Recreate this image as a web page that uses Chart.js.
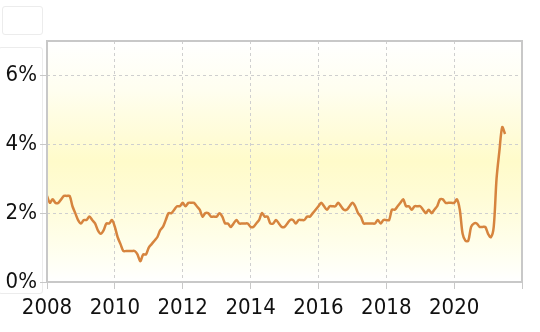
<!DOCTYPE html>
<html>
<head>
<meta charset="utf-8">
<script src="https://cdn.jsdelivr.net/npm/chart.js@4"></script>
<style>
  html, body { margin: 0; padding: 0; background: #fff; }
  #wrap { position: relative; width: 540px; height: 332px; }
  .box { position: absolute; border: 1px solid #ececec; border-radius: 3px; }
  canvas { position: absolute; left: 0; top: 0; }
</style>
</head>
<body>
<div id="wrap">
  <div class="box" style="left:2px;top:6px;width:39px;height:27px;"></div>
  <div class="box" style="left:-2px;top:47px;width:43px;height:245px;"></div>
  <canvas id="chart" width="540" height="332"></canvas>
</div>
<script>
// core CPI, % year on year, monthly from Jan 2008
const cpi2008 = [2.5, 2.3, 2.4, 2.3, 2.3, 2.4, 2.5, 2.5, 2.5, 2.2, 2.0, 1.8];
const cpi2009 = [1.7, 1.8, 1.8, 1.9, 1.8, 1.7, 1.5, 1.4, 1.5, 1.7, 1.7, 1.8];
const cpi2010 = [1.6, 1.3, 1.1, 0.9, 0.9, 0.9, 0.9, 0.9, 0.8, 0.6, 0.8, 0.8];
const cpi2011 = [1.0, 1.1, 1.2, 1.3, 1.5, 1.6, 1.8, 2.0, 2.0, 2.1, 2.2, 2.2];
const cpi2012 = [2.3, 2.2, 2.3, 2.3, 2.3, 2.2, 2.1, 1.9, 2.0, 2.0, 1.9, 1.9];
const cpi2013 = [1.9, 2.0, 1.9, 1.7, 1.7, 1.6, 1.7, 1.8, 1.7, 1.7, 1.7, 1.7];
const cpi2014 = [1.6, 1.6, 1.7, 1.8, 2.0, 1.9, 1.9, 1.7, 1.7, 1.8, 1.7, 1.6];
const cpi2015 = [1.6, 1.7, 1.8, 1.8, 1.7, 1.8, 1.8, 1.8, 1.9, 1.9, 2.0, 2.1];
const cpi2016 = [2.2, 2.3, 2.2, 2.1, 2.2, 2.2, 2.2, 2.3, 2.2, 2.1, 2.1, 2.2];
const cpi2017 = [2.3, 2.2, 2.0, 1.9, 1.7, 1.7, 1.7, 1.7, 1.7, 1.8, 1.7, 1.8];
const cpi2018 = [1.8, 1.8, 2.1, 2.1, 2.2, 2.3, 2.4, 2.2, 2.2, 2.1, 2.2, 2.2];
const cpi2019 = [2.2, 2.1, 2.0, 2.1, 2.0, 2.1, 2.2, 2.4, 2.4, 2.3, 2.3, 2.3];
const cpi2020 = [2.3, 2.4, 2.1, 1.4, 1.2, 1.2, 1.6, 1.7, 1.7, 1.6, 1.6, 1.6];
const cpi2021 = [1.4, 1.3, 1.6, 3.0, 3.8, 4.5, 4.3];

const startYear = 2008;
const yearTicks = [2008, 2010, 2012, 2014, 2016, 2018, 2020, 2022];
const percentTicks = [0, 2, 4, 6];

const coreCpi = [].concat(cpi2008, cpi2009, cpi2010, cpi2011, cpi2012, cpi2013,
  cpi2014, cpi2015, cpi2016, cpi2017, cpi2018, cpi2019, cpi2020, cpi2021);
const points = coreCpi.map((v, i) => ({x: startYear + i / 12, y: v}));

const labelFont = {family: "'DejaVu Sans Condensed', 'Liberation Sans'", size: 22};

const areaBackground = {
  id: 'areaBackground',
  beforeDraw(chart) {
    const {ctx, chartArea: a} = chart;
    const g = ctx.createLinearGradient(0, a.top, 0, a.bottom);
    g.addColorStop(0, '#ffffff');
    g.addColorStop(0.2, '#fffef0');
    g.addColorStop(0.5, '#fffbca');
    g.addColorStop(0.65, '#fffcd6');
    g.addColorStop(0.9, '#fffff2');
    g.addColorStop(1, '#ffffff');
    ctx.save();
    ctx.fillStyle = g;
    ctx.fillRect(a.left, a.top, a.right - a.left, a.bottom - a.top);
    ctx.restore();
  },
  afterDatasetsDraw(chart) {
    const {ctx, chartArea: a} = chart;
    ctx.save();
    ctx.strokeStyle = '#c8c8c8';
    ctx.lineWidth = 2;
    ctx.strokeRect(a.left, a.top, a.right - a.left, a.bottom - a.top);
    ctx.restore();
  }
};

new Chart(document.getElementById('chart'), {
  type: 'line',
  data: {
    datasets: [{
      data: points,
      borderColor: '#d6843e',
      borderWidth: 2.5,
      pointRadius: 0,
      tension: 0.3,
      fill: false
    }]
  },
  options: {
    responsive: false,
    animation: false,
    layout: {padding: {top: 41, right: 18}},
    plugins: {legend: {display: false}, tooltip: {enabled: false}},
    scales: {
      x: {
        type: 'linear',
        min: 2008,
        max: 2022,
        afterBuildTicks: s => { s.ticks = yearTicks.map(v => ({value: v})); },
        afterFit: s => { s.height = 50; },
        ticks: {
          color: '#111',
          font: labelFont,
          padding: 6,
          maxRotation: 0,
          callback: v => v === 2022 ? '' : String(v)
        },
        grid: {color: '#cfcfcf', tickColor: '#c8c8c8', tickLength: 7, lineWidth: 1},
        border: {display: false, dash: [3, 3]}
      },
      y: {
        min: 0,
        max: 7,
        afterBuildTicks: s => { s.ticks = percentTicks.map(v => ({value: v})); },
        afterFit: s => { s.width = 47; },
        ticks: {
          color: '#111',
          font: labelFont,
          padding: 3,
          callback: v => v + '%'
        },
        grid: {color: '#cfcfcf', tickColor: '#c8c8c8', tickLength: 7, lineWidth: 1},
        border: {display: false, dash: [3, 3]}
      }
    }
  },
  plugins: [areaBackground]
});
</script>
</body>
</html>
